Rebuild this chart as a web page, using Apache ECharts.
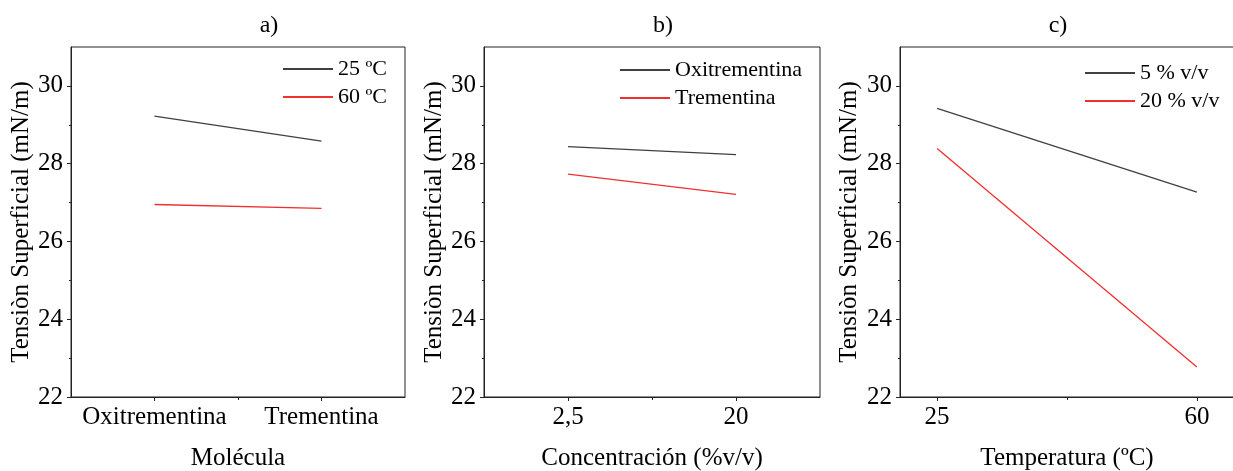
<!DOCTYPE html>
<html>
<head>
<meta charset="utf-8">
<script src="https://cdn.jsdelivr.net/npm/echarts@6/dist/echarts.min.js"></script>
<style>html,body{margin:0;padding:0;background:#fff;}#c{width:1233px;height:471px;}</style>
</head>
<body>
<div id="c"></div>
<script>
// ---- data ----
const moleculas = ['Oxitrementina', 'Trementina'];
const a25 = [29.22, 28.58];
const a60 = [26.95, 26.85];
const concentraciones = ['2,5', '20'];
const bOxi = [28.44, 28.23];
const bTre = [27.73, 27.21];
const temperaturas = [25, 60];
const c5 = [29.42, 27.27];
const c20 = [28.39, 22.77];
const yMajor = [22, 24, 26, 28, 30];
const yMinor = [23, 25, 27, 29];
const cMinor = [42.5];
const panelTitles = ['a)', 'b)', 'c)'];

const FONT = "'Liberation Serif','Times New Roman',serif";
const BLACK = '#404040';
const RED = '#f03030';
const AX = '#222';

const grids = [
  {left: 71, top: 47, width: 334, height: 350},
  {left: 484, top: 47, width: 336, height: 350},
  {left: 900, top: 47, width: 334, height: 350}
].map(g => Object.assign(g, {show: true, borderColor: AX, borderWidth: 1, backgroundColor: 'transparent', containLabel: false, outerBoundsMode: 'none'}));

const yNames = 'Tensiòn Superficial (mN/m)';
const xNames = ['Molécula', 'Concentración (%v/v)', 'Temperatura (ºC)'];

const xAxis = [];
const yAxis = [];
const lbl = {color: '#000', fontFamily: FONT, fontSize: 25};

function mainY(gi) {
  return {
    type: 'value', gridIndex: gi, min: 22, max: 31,
    name: yNames, nameLocation: 'middle', nameGap: gi === 2 ? 38 : 37,
    nameTextStyle: {color: '#000', fontFamily: FONT, fontSize: 25},
    axisLine: {show: true, lineStyle: {color: AX, width: 1}},
    axisTick: {show: true, inside: false, length: 4, lineStyle: {color: AX}, customValues: yMajor},
    axisLabel: Object.assign({margin: 8, customValues: yMajor}, lbl),
    splitLine: {show: false}
  };
}
function minorY(gi) {
  return {
    type: 'value', gridIndex: gi, min: 22, max: 31, position: 'left', offset: 0,
    axisLine: {show: false},
    axisTick: {show: true, inside: false, length: 2, lineStyle: {color: AX}, customValues: yMinor},
    axisLabel: {show: false}, splitLine: {show: false}
  };
}
function catX(gi, data) {
  return {
    type: 'category', gridIndex: gi, data: data, boundaryGap: true,
    name: xNames[gi], nameLocation: 'middle', nameGap: 49,
    nameTextStyle: {color: '#000', fontFamily: FONT, fontSize: 25},
    axisLine: {show: true, lineStyle: {color: AX, width: 1}},
    axisTick: {show: true, alignWithLabel: true, inside: false, length: 4, lineStyle: {color: AX}},
    axisLabel: Object.assign({margin: 8, interval: 0}, lbl),
    splitLine: {show: false}
  };
}
function minorXcat(gi) {
  return {
    type: 'value', gridIndex: gi, min: 0, max: 2, position: 'bottom', offset: 0,
    axisLine: {show: false},
    axisTick: {show: true, inside: false, length: 3, lineStyle: {color: AX}, customValues: [1]},
    axisLabel: {show: false}, splitLine: {show: false}
  };
}

// panel a
xAxis.push(catX(0, moleculas));
yAxis.push(mainY(0));
// panel b
xAxis.push(catX(1, concentraciones));
yAxis.push(mainY(1));
// panel c
xAxis.push({
  type: 'value', gridIndex: 2, min: 20, max: 65,
  name: xNames[2], nameLocation: 'middle', nameGap: 49,
  nameTextStyle: {color: '#000', fontFamily: FONT, fontSize: 25},
  axisLine: {show: true, lineStyle: {color: AX, width: 1}},
  axisTick: {show: true, inside: false, length: 4, lineStyle: {color: AX}, customValues: temperaturas},
  axisLabel: Object.assign({margin: 8, customValues: temperaturas}, lbl),
  splitLine: {show: false}
});
yAxis.push(mainY(2));
// minor tick axes
xAxis.push(minorXcat(0));  // 3
xAxis.push(minorXcat(1));  // 4
xAxis.push({               // 5
  type: 'value', gridIndex: 2, min: 20, max: 65, position: 'bottom', offset: 0,
  axisLine: {show: false},
  axisTick: {show: true, inside: false, length: 3, lineStyle: {color: AX}, customValues: cMinor},
  axisLabel: {show: false}, splitLine: {show: false}
});
yAxis.push(minorY(0)); yAxis.push(minorY(1)); yAxis.push(minorY(2));

function line(name, xi, yi, data, color) {
  return {
    name: name, type: 'line', xAxisIndex: xi, yAxisIndex: yi, data: data,
    symbol: 'none', showSymbol: false, color: color, silent: true, animation: false,
    lineStyle: {color: color, width: 1.3}
  };
}

const series = [
  line('25 ºC', 0, 0, a25, BLACK),
  line('60 ºC', 0, 0, a60, RED),
  line('Oxitrementina', 1, 1, bOxi, BLACK),
  line('Trementina', 1, 1, bTre, RED),
  line('5 % v/v', 2, 2, temperaturas.map((t, i) => [t, c5[i]]), BLACK),
  line('20 % v/v', 2, 2, temperaturas.map((t, i) => [t, c20[i]]), RED)
];

function legend(names, left, top) {
  return {
    data: names, orient: 'vertical', left: left, top: top, padding: 0,
    icon: 'rect', itemWidth: 50, itemHeight: 2, itemGap: 6, selectedMode: false,
    textStyle: {color: '#000', fontFamily: FONT, fontSize: 22, lineHeight: 22}
  };
}

const titlePos = [[269, 26], [663, 26], [1058, 26]];

const chart = echarts.init(document.getElementById('c'), null, {renderer: 'canvas'});
chart.setOption({
  animation: false,
  backgroundColor: '#fff',
  grid: grids,
  xAxis: xAxis,
  yAxis: yAxis,
  legend: [
    legend(['25 ºC', '60 ºC'], 283, 58),
    legend(['Oxitrementina', 'Trementina'], 620, 59),
    legend(['5 % v/v', '20 % v/v'], 1085, 62)
  ],
  graphic: panelTitles.map((t, i) => ({
    type: 'text', x: titlePos[i][0], y: titlePos[i][1],
    style: {text: t, fill: '#000', font: "24px 'Liberation Serif','Times New Roman',serif", textAlign: 'center', textVerticalAlign: 'middle'}
  })),
  series: series
});
</script>
</body>
</html>
